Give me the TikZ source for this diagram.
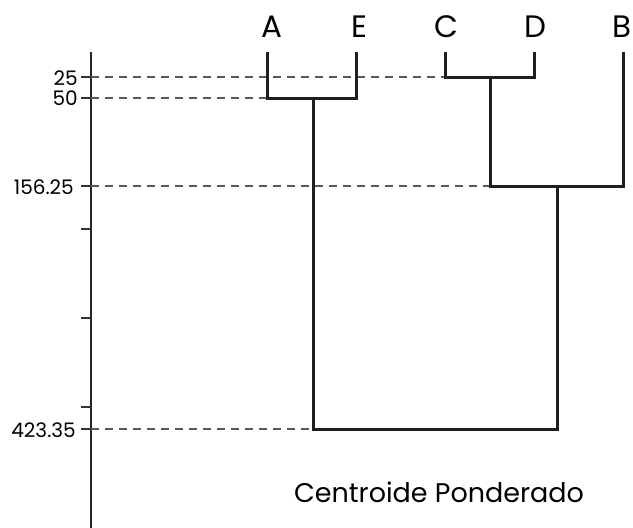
\documentclass[tikz,border=0pt]{standalone}
\usepackage{fontspec}
\setmainfont{Poppins}
\tikzset{
  branch/.style={line width=3pt,black!88,line join=miter},
  guide/.style={dash pattern=on 8pt off 6pt,black!65,line width=1.3pt},
  leaf/.style={anchor=base,inner sep=0pt,font=\fontsize{31}{34}\selectfont},
  level/.style={anchor=east,inner sep=0pt,font=\fontsize{20}{22}\selectfont},
}
\begin{document}
\begin{tikzpicture}[x=1pt,y=-1pt]
  \useasboundingbox (0,0) rectangle (633,528);

  % axis with ticks
  \coordinate (top) at (91,52);
  \coordinate (bottom) at (91,528);
  \draw[line width=1.8pt,black!85] (top) -- (bottom);
  \foreach \t in {77,98,186,229,318,407,429}
    \draw[line width=1.3pt,black!80] (81,\t) -- (91,\t);

  % level labels
  \node[level] (l25) at (78,78) {25};
  \node[level] (l50) at (78,98) {50};
  \node[level] (l156) at (74,187) {156.25};
  \node[level] (l423) at (76,430) {423.35};

  % leaves
  \node[leaf] (A) at (272,37) {A};
  \node[leaf] (E) at (359,37) {E};
  \node[leaf] (C) at (446,37) {C};
  \node[leaf] (D) at (535,37) {D};
  \node[leaf,anchor=base east] (B) at (632,37) {B};

  \coordinate (a) at (267,52);
  \coordinate (e) at (356,52);
  \coordinate (c) at (445,52);
  \coordinate (d) at (534,52);
  \coordinate (b) at (623,52);

  % merges
  \coordinate (cd) at (490,77);
  \coordinate (ae) at (313,98);
  \coordinate (cdb) at (557,186);
  \coordinate (root) at (435,429);

  % dashed levels
  \draw[guide] (top |- cd) -- (c |- cd);
  \draw[guide] (top |- ae) -- (a |- ae);
  \draw[guide] (top |- cdb) -- (cd |- cdb);
  \draw[guide] (top |- root) -- (ae |- root);

  % tree
  \draw[branch] (a) -- (a |- ae) -- (e |- ae) -- (e);
  \draw[branch] (c) -- (c |- cd) -- (d |- cd) -- (d);
  \draw[branch] (cd) -- (cd |- cdb) -- (b |- cdb) -- (b);
  \draw[branch] (ae) -- (ae |- root) -- (cdb |- root) -- (cdb);

  \node[anchor=base,inner sep=0pt,font=\fontsize{27}{30}\selectfont] (title) at (439,502) {Centroide Ponderado};
\end{tikzpicture}
\end{document}
